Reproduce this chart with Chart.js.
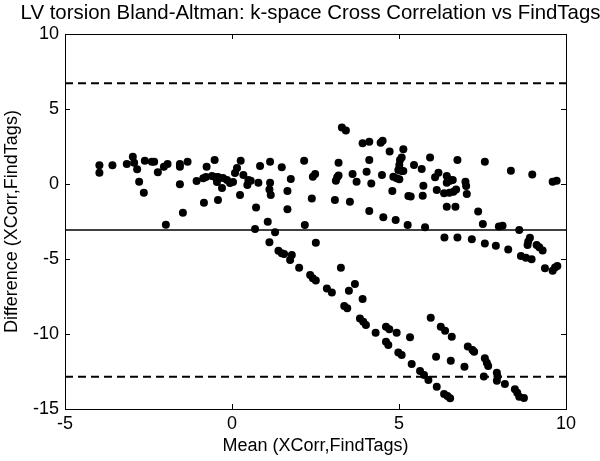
<!DOCTYPE html>
<html>
<head>
<meta charset="utf-8">
<script src="https://cdn.jsdelivr.net/npm/chart.js@4.4.1/dist/chart.umd.min.js"></script>
<style>
    html, body { margin: 0; padding: 0; background: #fff; }
    #wrap { width: 600px; height: 461px; }
</style>
</head>
<body>
<div id="wrap"><canvas id="baChart" width="600" height="461"></canvas></div>
<script>
/* ==============================
   Bland-Altman: XCorr vs FindTags
   ============================== */

// mean of the two methods (x)
const meanValues = [
    -3.97, -3.97, -3.58, -3.15, -2.97, -2.93, -2.84, -2.78, -2.64, -2.61,
    -2.40, -2.33, -2.22, -2.04, -1.93, -1.98, -1.56, -1.56, -1.33, -1.56,
    -1.47, -1.06, -0.84, -0.86, -0.76, -0.52, -0.78, -0.60, -0.51, -0.45,
    -0.42, -0.30, -0.27, -0.15, -0.06, 0.03, 0.09, 0.15, -0.42, 0.24,
    0.26, 0.34, 0.49, 0.46, 0.56, 0.72, 0.69, 0.79, 0.84, 1.07,
    1.14, 1.14, 1.12, 1.16, 1.29, 1.49, 1.66, 1.66, 1.76, 2.16,
    2.39, 2.42, 2.49, 2.18, 3.08, 3.11, 3.15, 3.19, 3.19, 3.29,
    3.41, 3.53, 3.61, 3.73, 3.91, 4.11, 4.03, 4.11, 4.17, 4.11,
    4.45, 4.51, 4.49, 4.53, 4.72, 4.80, 4.83, 4.93, 5.01, 4.90,
    4.98, 5.01, 5.03, 5.08, 5.13, 5.08, 5.13, 5.28, 5.26,
    5.45, 5.68, 5.93, 6.08, 6.18, 5.73, 5.35, 5.71, 6.13, 6.43,
    6.48, 6.53, 6.61, 6.43, 6.35, 6.51, 6.63, 6.71, 6.75, 6.43,
    6.69, 6.99, 7.01, 7.03, 7.37, 7.51, 7.57, 7.99, 8.10, 8.35,
    8.60, 8.99, 9.60, 9.72, 5.78, 6.36, 6.75, 7.18, 7.57, 7.90,
    8.27, 8.65, 8.80, 8.97, 8.92, 8.87, 8.85, 9.12, 9.20, 9.30,
    9.37, 9.60, 9.67, 9.74,
    1.12, 1.39, 1.49, 1.56, 1.79, 1.74, 2.51, 2.01, 2.34, 2.42,
    2.51, 3.26, 2.84, 2.99, 3.50, 3.68, 3.91, 3.36, 3.45, 3.83,
    3.93, 4.01, 4.30, 4.61, 4.71, 4.93, 4.61, 4.68, 4.98,
    5.95, 6.25, 6.38, 6.58, 5.33, 5.08, 5.38, 5.63, 5.75, 5.88,
    6.13, 6.35, 6.45, 6.53, 6.11, 6.55, 6.96, 7.06, 7.20, 7.25,
    7.57, 7.63, 7.67, 7.54, 7.93, 7.95, 7.93, 8.17, 8.47, 8.54,
    8.60, 8.74
];

// difference XCorr - FindTags (y)
const diffValues = [
    1.25, 0.75, 1.25, 1.33, 1.82, 1.42, 0.98, 0.15, -0.58, 1.55,
    1.49, 1.49, 0.78, 1.15, 1.33, -2.71, 1.33, 1.15, 1.49, -0.02,
    -1.91, 0.20, -1.25, 0.38, 1.15, 1.60, 0.47, 0.53, 0.47, 0.13,
    0.47, -0.27, 0.40, 0.27, 0.07, 0.13, 0.73, 1.07, -1.07, -0.73,
    1.55, 0.60, 0.27, -0.07, 0.22, -1.56, -3.00, 0.09, 1.20, -2.51,
    1.49, 0.09, -0.36, -0.73, -3.22, 1.11, -0.47, -1.69, 0.33, 1.55,
    -0.96, 0.49, 0.67, -2.73, -1.07, 0.22, 0.45, 0.56, 1.42, 3.76,
    3.56, -1.18, 0.67, 0.15, 2.71, 2.82, 0.82, 1.60, 0.04, -1.80,
    2.75, 2.89, 0.60, -2.22, 2.16, -0.47, 0.49, 0.38, 0.31, -2.40,
    0.93, 1.27, 1.60, 1.76, 2.31, 0.87, 0.87, -0.80, -2.73,
    1.27, 1.00, 1.76, 0.45, 0.75, -0.11, -0.84, -0.78, -0.40, 0.53,
    0.31, 0.22, 0.27, 0.09, -0.62, -0.58, -0.51, -0.36, 1.60, -1.51,
    -1.51, 0.15, -0.13, -0.67, -1.84, -2.67, 1.49, -2.84, -2.78, 0.89,
    -3.07, 0.64, 0.15, 0.22, -2.89, -3.56, -3.56, -3.69, -3.96, -4.11,
    -4.36, -4.80, -4.91, -5.02, -3.58, -3.84, -4.07, -4.07, -4.22, -4.44,
    -5.62, -5.78, -5.56, -5.47,
    -3.89, -4.45, -4.62, -4.67, -4.73, -5.07, -3.91, -5.58, -6.07, -6.29,
    -6.44, -5.58, -6.96, -7.24, -7.11, -6.67, -7.67, -8.13, -8.29, -8.96,
    -9.18, -9.40, -9.91, -9.51, -9.69, -9.91, -10.51, -10.73, -11.24,
    -8.91, -9.51, -9.78, -10.18, -10.22, -11.40, -12.00, -12.47, -12.73, -13.07,
    -13.51, -14.00, -14.13, -14.29, -11.51, -11.78, -12.18, -10.84, -11.07, -11.18,
    -11.62, -11.91, -12.13, -12.84, -12.58, -12.84, -13.11, -13.33, -13.69, -13.91,
    -14.18, -14.27
];

const xTicks = [-5, 0, 5, 10];
const yTicks = [10, 5, 0, -5, -10, -15];
const lineSpan = [-5, 10];

const meanDiff = -3.07;
const upperLoA = 6.72;
const lowerLoA = -12.85;

const FONT = 'Liberation Sans, Arial, Helvetica, sans-serif';

function hLine(y) {
    return lineSpan.map(x => ({ x, y }));
}

// ── Frame, inside ticks and title ──────────
const matlabAxes = {
    id: 'matlabAxes',
    afterDraw(chart) {
        const { ctx, chartArea: a, scales } = chart;
        const len = 5;
        ctx.save();
        ctx.strokeStyle = '#000';
        ctx.lineWidth = 1;
        ctx.strokeRect(a.left + 0.5, a.top + 0.5, a.right - a.left, a.bottom - a.top);
        ctx.beginPath();
        xTicks.forEach(v => {
            const px = Math.round(scales.x.getPixelForValue(v)) + 0.5;
            ctx.moveTo(px, a.bottom); ctx.lineTo(px, a.bottom - len);
            ctx.moveTo(px, a.top); ctx.lineTo(px, a.top + len);
        });
        yTicks.forEach(v => {
            const py = Math.round(scales.y.getPixelForValue(v)) + 0.5;
            ctx.moveTo(a.left, py); ctx.lineTo(a.left + len, py);
            ctx.moveTo(a.right, py); ctx.lineTo(a.right - len, py);
        });
        ctx.stroke();

        ctx.fillStyle = '#000';
        ctx.font = '20.4px ' + FONT;
        ctx.textAlign = 'center';
        ctx.textBaseline = 'middle';
        ctx.fillText('LV torsion Bland-Altman: k-space Cross Correlation vs FindTags', (a.left + a.right) / 2 - 5, 13);
        ctx.restore();
    }
};

new Chart(document.getElementById('baChart'), {
    type: 'scatter',
    data: {
        datasets: [
            {
                data: meanValues.map((x, i) => ({ x, y: diffValues[i] })),
                backgroundColor: '#000', borderColor: '#000',
                pointRadius: 4, pointBorderWidth: 0
            },
            { data: hLine(upperLoA), showLine: true, borderColor: '#000', borderWidth: 2, borderDash: [8, 5], pointRadius: 0 },
            { data: hLine(meanDiff), showLine: true, borderColor: '#000', borderWidth: 1.4, pointRadius: 0 },
            { data: hLine(lowerLoA), showLine: true, borderColor: '#000', borderWidth: 2, borderDash: [8, 5], pointRadius: 0 }
        ]
    },
    options: {
        responsive: false,
        animation: false,
        devicePixelRatio: 1,
        layout: { padding: { top: 34, right: 34, left: 0, bottom: 0 } },
        plugins: { legend: { display: false }, title: { display: false }, tooltip: { enabled: false } },
        scales: {
            x: {
                type: 'linear', min: -5, max: 10,
                afterBuildTicks: s => { s.ticks = xTicks.map(value => ({ value })); },
                afterFit: s => { s.height = 52; },
                grid: { display: false, drawTicks: false },
                border: { display: false },
                ticks: { color: '#000', font: { family: FONT, size: 18 }, padding: 4, maxRotation: 0 },
                title: { display: true, text: 'Mean (XCorr,FindTags)', color: '#000', font: { family: FONT, size: 18 }, padding: { top: 0, bottom: 4 } }
            },
            y: {
                type: 'linear', min: -15, max: 10,
                afterBuildTicks: s => { s.ticks = yTicks.map(value => ({ value })); },
                afterFit: s => { s.width = 65; },
                grid: { display: false, drawTicks: false },
                border: { display: false },
                ticks: { color: '#000', font: { family: FONT, size: 18 }, padding: 6 },
                title: { display: true, text: 'Difference (XCorr,FindTags)', color: '#000', font: { family: FONT, size: 18 }, padding: { top: 1, bottom: 0 } }
            }
        }
    },
    plugins: [matlabAxes]
});
</script>
</body>
</html>
